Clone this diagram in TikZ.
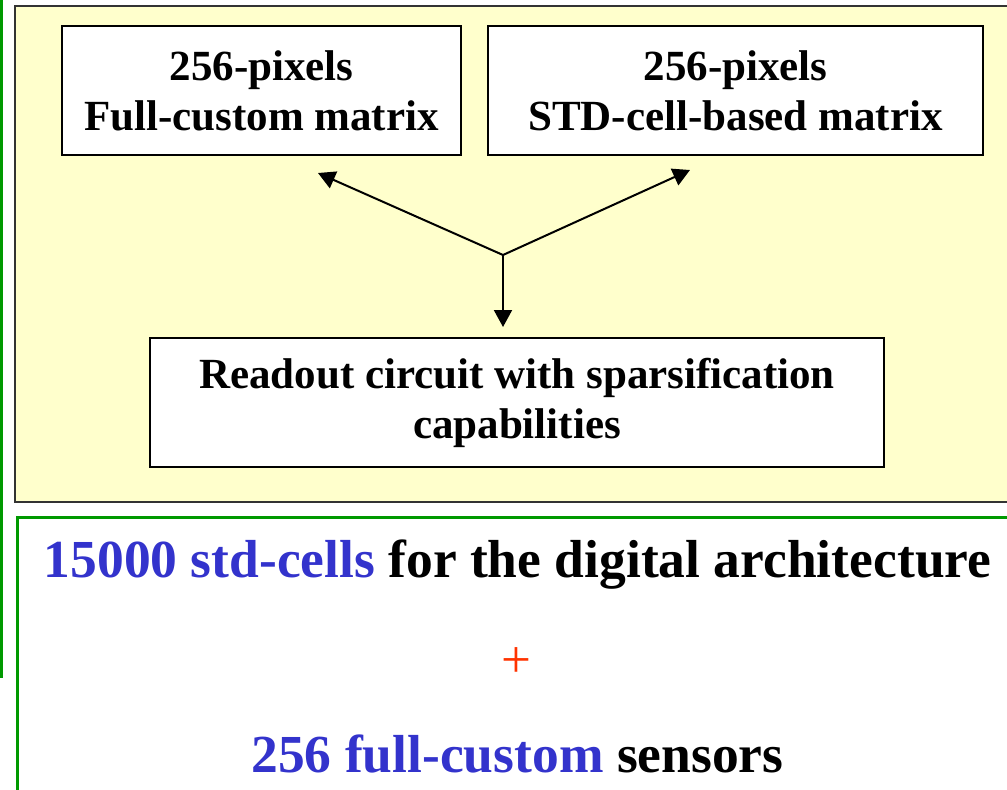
\documentclass[tikz,border=0pt]{standalone}
\usepackage{fontspec}
\setmainfont{Liberation Serif}
\usetikzlibrary{positioning,arrows.meta}
\definecolor{panelyellow}{RGB}{255,255,204}
\definecolor{framegreen}{RGB}{0,153,0}
\definecolor{cellblue}{RGB}{51,51,204}
\definecolor{plusred}{RGB}{255,51,0}

\begin{document}
\begin{tikzpicture}[x=1pt,y=-1pt,block/.style={draw, fill=white, line width=2pt, align=center, inner sep=0pt, minimum height=129pt, font=\fontsize{43}{50}\selectfont\bfseries},link/.style={line width=2pt, -{Triangle[length=17pt,width=18pt]}},big/.style={anchor=base, inner sep=0pt, font=\fontsize{53.5}{60}\selectfont\bfseries}]
\useasboundingbox (0,0) rectangle (1007,790);
\fill[panelyellow] (15,6) rectangle (1012,502);
\draw[line width=2.2pt, black!80] (1012,6) -- (15,6) -- (15,502) -- (1012,502);
\draw[framegreen, line width=3pt] (1,0) -- (1,678);
\draw[framegreen, line width=3pt] (1012,517) -- (17,517) -- (17,795);
\node[block, minimum width=399pt] (full) at (261.5,90.5) {256-pixels\\Full-custom matrix};
\node[block, minimum width=495pt] (std) at (735.5,90.5) {256-pixels\\STD-cell-based matrix};
\node[block, minimum width=734pt] (readout) at (517,402.5) {Readout circuit with sparsification\\capabilities};
\coordinate (fork) at (503,255);
\coordinate (fulltip) at (318,173);
\coordinate (stdtip) at (690,170);
\coordinate (readtip) at (503,327);
\draw[link] (fork) -- (fulltip);
\draw[link] (fork) -- (stdtip);
\draw[link] (fork) -- (readtip);
\node[big] (cells) at (517.5,577) {\textcolor{cellblue}{15000 std-cells} for the digital architecture};
\node[text=plusred, inner sep=0pt, font=\fontsize{53}{60}\selectfont] (plus) at (516,663) {+};
\node[big] (sensors) at (517.5,772) {\textcolor{cellblue}{256 full-custom} sensors};
\end{tikzpicture}
\end{document}
